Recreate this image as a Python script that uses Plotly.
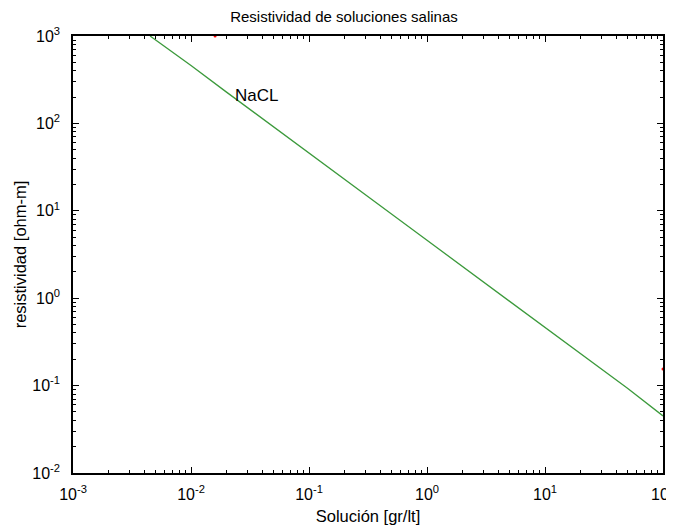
import plotly.graph_objects as go

conc = [0.0045, 0.01, 0.02, 0.05, 0.1, 0.2, 0.5, 1, 2, 5, 10, 20, 50, 100]
resist = [1000, 460, 228, 92, 46, 23, 9.2, 4.6, 2.3, 0.92, 0.46, 0.23, 0.093, 0.045]

tickvals = [1e-3, 1e-2, 1e-1, 1, 10, 100]
xticktext = ["10<sup>-3</sup>", "10<sup>-2</sup>", "10<sup>-1</sup>", "10<sup>0</sup>", "10<sup>1</sup>", "10<sup>2</sup>"]
ytickvals = [1e-2, 1e-1, 1, 10, 100, 1000]
yticktext = ["10<sup>-2</sup>", "10<sup>-1</sup>", "10<sup>0</sup>", "10<sup>1</sup>", "10<sup>2</sup>", "10<sup>3</sup>"]

red_x = [0.016, 100]
red_y = [1000, 0.155]

x_minor = [k * 10.0 ** e for e in range(-3, 2) for k in range(2, 10)]
y_minor = [k * 10.0 ** e for e in range(-2, 3) for k in range(2, 10)]

fig = go.Figure()
fig.add_trace(go.Scatter(x=conc, y=resist, mode="lines",
                         line=dict(color="#3c9a3c", width=1.3), showlegend=False))
fig.add_trace(go.Scatter(x=red_x, y=red_y, mode="markers",
                         marker=dict(color="red", size=3, symbol="circle"),
                         showlegend=False, cliponaxis=False))

fig.add_annotation(x=-1.64, y=2.32, xref="x", yref="y", text="NaCL", showarrow=False,
                   xanchor="left", yanchor="middle", font=dict(size=17, color="black"))

axis_common = dict(type="log", showgrid=False, zeroline=False, showline=True,
                   linecolor="black", linewidth=1.5, mirror="ticks", ticks="inside",
                   ticklen=6, tickcolor="black", automargin=False,
                   tickfont=dict(size=16, color="black", family="Liberation Sans"))

fig.update_xaxes(range=[-3, 2], tickvals=tickvals, ticktext=xticktext, ticklabelstandoff=6,
                 minor=dict(ticks="inside", ticklen=3, tickcolor="black", tickvals=x_minor),
                 title=dict(text="Solución [gr/lt]", standoff=8,
                            font=dict(size=16.5, color="black")), **axis_common)
fig.update_yaxes(range=[-2, 3], tickvals=ytickvals, ticktext=yticktext, ticklabelstandoff=8,
                 minor=dict(ticks="inside", ticklen=3, tickcolor="black", tickvals=y_minor),
                 title=dict(text="resistividad [ohm-m]", standoff=2,
                            font=dict(size=16.5, color="black")), **axis_common)

fig.update_layout(
    width=674, height=529,
    margin=dict(l=65, r=19, t=28, b=64, autoexpand=False),
    paper_bgcolor="white", plot_bgcolor="white",
    font=dict(family="Liberation Sans", size=16, color="black"),
    title=dict(text="Resistividad de soluciones salinas", x=0.4985, xanchor="center",
               y=0.983, yanchor="middle", font=dict(size=15, color="black")),
)

fig.write_html("out.html")
